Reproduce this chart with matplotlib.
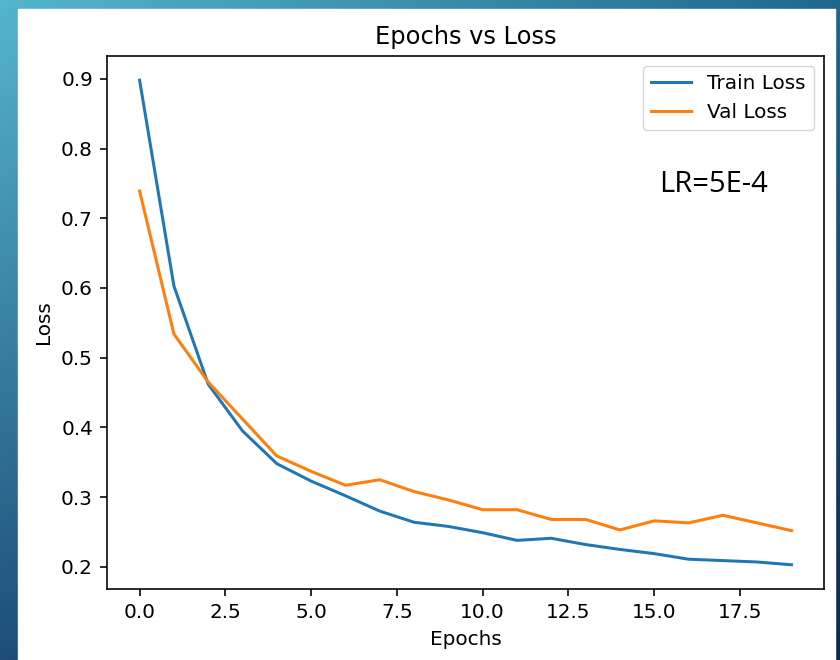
import numpy as np
import matplotlib
matplotlib.use("Agg")
from matplotlib import pyplot as plt
from matplotlib.patches import Rectangle

# data
epochs = list(range(20))
train_loss = [0.898, 0.603, 0.462, 0.395, 0.348, 0.323, 0.302, 0.280, 0.264, 0.258,
              0.249, 0.238, 0.241, 0.232, 0.225, 0.219, 0.211, 0.209, 0.207, 0.203]
val_loss = [0.739, 0.534, 0.465, 0.412, 0.359, 0.337, 0.317, 0.325, 0.308, 0.296,
            0.282, 0.282, 0.268, 0.268, 0.253, 0.266, 0.263, 0.274, 0.263, 0.252]
lr_note = "LR=5E-4"

W, H = 840, 660
s = 1.445  # scale of the pasted matplotlib figure

fig = plt.figure(figsize=(W / 100, H / 100), dpi=100)

# slide background: blue gradient
bg = fig.add_axes([0, 0, 1, 1])
tl = np.array([85, 182, 204]) / 255
tr = np.array([32, 104, 142]) / 255
bl = np.array([30, 78, 120]) / 255
br = np.array([12, 40, 85]) / 255
u = np.linspace(0, 1, 200)[None, :, None]
v = np.linspace(0, 1, 160)[:, None, None]
grad = (1 - v) * ((1 - u) * tl + u * tr) + v * ((1 - u) * bl + u * br)
bg.imshow(grad, aspect="auto", extent=[0, W, H, 0])
bg.add_patch(Rectangle((18, 9), 835 - 18, H - 9, color="white"))
bg.set_xlim(0, W)
bg.set_ylim(H, 0)
bg.axis("off")

# main chart
l, r, t, b = 107, 824, 56, 589
ax = fig.add_axes([l / W, 1 - b / H, (r - l) / W, (b - t) / H])
ax.plot(epochs, train_loss, label="Train Loss", linewidth=1.5 * s)
ax.plot(epochs, val_loss, label="Val Loss", linewidth=1.5 * s)
ax.set_title("Epochs vs Loss", fontsize=12 * s, pad=6 * s)
ax.set_xlabel("Epochs", fontsize=10 * s, labelpad=4 * s)
ax.set_ylabel("Loss", fontsize=10 * s, labelpad=4 * s)
ax.tick_params(labelsize=10 * s, length=3.5 * s, width=0.8 * s, pad=3.5 * s)
for sp in ax.spines.values():
    sp.set_linewidth(0.8 * s)
ax.legend(fontsize=10 * s, handlelength=2.0, borderpad=0.4, labelspacing=0.5)

fig.text(713 / W, 1 - 184 / H, lr_note, fontsize=21,
         family=["Liberation Sans Narrow", "Open Sans"],
         ha="center", va="center", color="black")

fig.savefig("out.png", dpi=100)
